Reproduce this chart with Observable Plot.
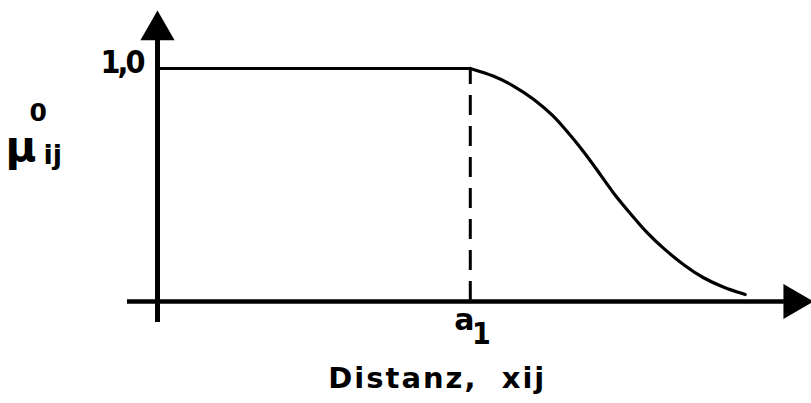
<!DOCTYPE html>
<html><head><meta charset="utf-8">
<script src="https://cdn.jsdelivr.net/npm/d3@7"></script>
<script src="https://cdn.jsdelivr.net/npm/@observablehq/plot@0.6"></script>
<style>body{margin:0;background:#fff}</style>
</head><body><div id="chart"></div>
<script>
// Data (x in arbitrary distance units, y = membership μ)
const a1 = 47.9;
const flatX = [0, 47.9];
const flatY = [1, 1];
const curveX = [47.9, 51.5, 54.5, 57.6, 60.6, 62.2, 64.8, 67.4, 69.8, 72.4, 75.0, 77.5, 80.6, 83.6, 86.7, 90.0];
const curveY = [1, 0.970, 0.927, 0.871, 0.798, 0.747, 0.661, 0.562, 0.464, 0.378, 0.292, 0.227, 0.155, 0.099, 0.060, 0.030];
const xAxisExtent = [-4.6, 96];
const yAxisExtent = [-0.09, 1.12];
const arrowX = [97.4];
const arrowY = [1.164];
const yTickLabel = "1,0";
const xTickLabel = "a";
const xTickSub = "1";
const xLabel = "Distanz,  xij";
const yLabel = "μ";
const yLabelSup = "0";
const yLabelSub = "ij";

const flat = flatX.map((x, i) => ({x, y: flatY[i]}));
const curve = curveX.map((x, i) => ({x, y: curveY[i]}));
const font = "DejaVu Sans";
const cond = "'DejaVu Sans Condensed', 'Liberation Sans Narrow', 'DejaVu Sans'";

const chart = Plot.plot({
  width: 811, height: 403,
  margin: 0,
  x: {domain: [0, 100], range: [157, 810], axis: null},
  y: {domain: [0, 1], range: [301, 68], axis: null},
  style: {fontFamily: font, color: "#000", background: "#fff"},
  marks: [
    // axes
    Plot.ruleY([0], {x1: xAxisExtent[0], x2: xAxisExtent[1], stroke: "#000", strokeWidth: 4.5}),
    Plot.ruleX([0], {y1: yAxisExtent[0], y2: yAxisExtent[1], stroke: "#000", strokeWidth: 5}),
    Plot.dot([0], {x: 0, y: arrowY[0], symbol: "triangle", r: 12.7, fill: "#000", stroke: "none"}),
    Plot.dot([0], {x: arrowX[0], y: 0, symbol: "triangle", r: 13, rotate: 90, fill: "#000", stroke: "none"}),
    // dashed a1 line
    Plot.ruleX([a1], {y1: 0, y2: 1, stroke: "#000", strokeWidth: 3, strokeDasharray: "20,11"}),
    // membership function
    Plot.line(flat, {x: "x", y: "y", stroke: "#000", strokeWidth: 3}),
    Plot.line(curve, {x: "x", y: "y", stroke: "#000", strokeWidth: 3.2, curve: "basis"}),
    // labels
    Plot.text([yTickLabel], {x: 0, y: 1, text: d => d, dx: -15, dy: -6, textAnchor: "end", fontSize: 32, fontWeight: "bold", fontFamily: cond}),
    Plot.text([xTickLabel], {x: a1, y: 0, text: d => d, dx: -6, dy: 19, fontSize: 30, fontWeight: "bold"}),
    Plot.text([xTickSub], {x: a1, y: 0, text: d => d, dx: 11, dy: 33, fontSize: 30, fontWeight: "bold", fontFamily: cond}),
    Plot.text([xLabel], {x: a1, y: 0, text: d => d, dx: -33, dy: 77, fontSize: 29, fontWeight: "bold"}),
    Plot.text([yLabel], {frameAnchor: "top-left", text: d => d, dx: 5, dy: 131, fontSize: 42, fontWeight: "bold"}),
    Plot.text([yLabelSup], {frameAnchor: "top-left", text: d => d, dx: 29, dy: 103, fontSize: 25, fontWeight: "bold"}),
    Plot.text([yLabelSub], {frameAnchor: "top-left", text: d => d, dx: 43, dy: 144, fontSize: 27, fontWeight: "bold"})
  ]
});
// letter spacing (not a Plot text option) applied as style
const spacing = new Map([[xLabel, "2px"], [yTickLabel, "-3px"]]);
d3.select(chart).selectAll("text").each(function() {
  const s = spacing.get(this.textContent);
  if (s) this.style.letterSpacing = s;
});
document.getElementById("chart").append(chart);
</script>
</body></html>
